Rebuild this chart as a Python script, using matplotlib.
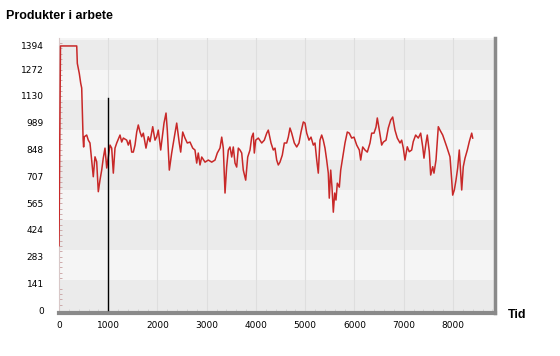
import matplotlib
matplotlib.use("Agg")
import matplotlib.pyplot as plt
from matplotlib.ticker import MultipleLocator

# 10 points per row
tid = [
    0, 30, 360, 372, 412, 441, 461, 490, 500, 514,
    562, 595, 629, 664, 696, 731, 765, 798, 832, 867,
    899, 934, 969, 1036, 1070, 1103, 1137, 1172, 1239, 1273,
    1306, 1375, 1407, 1442, 1476, 1509, 1543, 1578, 1610, 1645,
    1679, 1712,
    1766, 1813, 1848, 1903, 1949, 1984, 2016, 2065, 2106, 2132,
    2173, 2199, 2240, 2288, 2321, 2355, 2390, 2442, 2471, 2512,
    2558, 2605, 2660, 2715, 2761, 2796, 2828, 2863, 2898, 2965,
    3032, 3101, 3168, 3214, 3269, 3304, 3336, 3371, 3404, 3438,
    3472,
    3507, 3539, 3574, 3608, 3641, 3675, 3710, 3742, 3791, 3832,
    3878, 3913, 3945, 3966, 3994, 4047, 4116, 4169, 4218, 4250,
    4305, 4351, 4386, 4420, 4453, 4487, 4534, 4575, 4623, 4656,
    4690, 4725, 4778, 4827, 4873, 4914, 4961, 4995, 5030, 5076,
    5117, 5164, 5198,
    5233, 5265, 5299, 5334, 5366, 5401, 5435, 5468, 5488, 5517,
    5543, 5570, 5598, 5624, 5651, 5692, 5720, 5761, 5807, 5854,
    5895, 5943, 5990, 6045, 6098, 6126, 6167, 6213, 6260, 6315,
    6349, 6396, 6437, 6463, 6504, 6552, 6585, 6640, 6686, 6735,
    6776, 6822, 6869, 6924,
    6958, 6991, 7025, 7072, 7112, 7161, 7193, 7242, 7295, 7344,
    7385, 7411, 7452, 7478, 7519, 7547, 7588, 7614, 7655, 7702,
    7736, 7791, 7838, 7873, 7905, 7939, 7974, 7994, 8027, 8061,
    8095, 8128, 8157, 8177, 8209, 8244, 8291, 8331, 8380, 8400,
]
produkter = [
    340, 1394, 1394, 1302, 1249, 1197, 1172, 900, 861, 915,
    924, 897, 882, 792, 704, 809, 783, 625, 686, 739,
    802, 855, 750, 871, 855, 723, 855, 882, 924, 887,
    908, 897, 871, 897, 834, 834, 871, 940, 977, 940,
    915, 934,
    855, 915, 889, 968, 897, 915, 950, 845, 934, 987,
    1040, 950, 739, 829, 882, 934, 987, 882, 834, 940,
    908, 882, 887, 855, 845, 776, 829, 766, 808, 781,
    792, 781, 792, 829, 855, 913, 855, 618, 755, 845,
    861,
    808, 861, 776, 755, 855, 845, 829, 739, 686, 808,
    845, 913, 934, 829, 897, 908, 882, 897, 934, 950,
    882, 845, 855, 792, 766, 781, 818, 882, 882, 913,
    961, 934, 882, 861, 882, 940, 993, 987, 934, 897,
    913, 871, 882,
    792, 723, 897, 924, 897, 855, 792, 723, 591, 739,
    649, 517, 618, 581, 670, 649, 739, 808, 882, 940,
    934, 908, 913, 871, 845, 792, 861, 845, 834, 882,
    934, 934, 966, 1014, 950, 871, 887, 897, 961, 1003,
    1019, 950, 908, 882,
    897, 855, 792, 862, 836, 845, 889, 924, 908, 934,
    862, 802, 882, 924, 836, 713, 757, 723, 792, 968,
    950, 924, 889, 862, 836, 809, 686, 607, 634, 686,
    750, 845, 723, 634, 757, 802, 845, 889, 934, 908,
]

y_ticks = [0, 141, 283, 424, 565, 707, 848, 989, 1130, 1272, 1394]
x_ticks = [0, 1000, 2000, 3000, 4000, 5000, 6000, 7000, 8000]
markering = 1000   # black marker line
markering_topp = 1120

fig = plt.figure(figsize=(5.6, 3.56), dpi=100)
ax = fig.add_axes([59 / 560, 43 / 356, 436 / 560, 275 / 356])
ax.set_xlim(0, 8853)
ax.set_ylim(-15, 1436)

# alternating background bands
band = 1426 / 9
for i in range(10):
    col = "#ebebeb" if i % 2 == 0 else "#f5f5f5"
    ax.axhspan(i * band, (i + 1) * band, color=col, lw=0, zorder=0)
ax.axhspan(-15, 0, color="#ebebeb", lw=0, zorder=0)

for xv in x_ticks[1:]:
    ax.axvline(xv, color="#dedede", lw=0.8, zorder=1)

ax.plot(tid, produkter, color="#c82828", lw=1.1, zorder=3)
ax.plot([markering, markering], [0, markering_topp], color="black", lw=1, zorder=4)

ax.set_yticks(y_ticks)
ax.set_yticklabels([str(v) for v in y_ticks])
ax.set_xticks(x_ticks)
ax.set_xticklabels([str(v) for v in x_ticks])
ax.yaxis.set_minor_locator(MultipleLocator(28.2))
ax.xaxis.set_minor_locator(MultipleLocator(200))
ax.tick_params(axis="y", which="major", labelsize=6.5, length=0, pad=11)
ax.tick_params(axis="y", which="minor", direction="in", length=2.5, color="#c8a0a0")
ax.tick_params(axis="x", which="major", labelsize=6.5, length=0, pad=6)
ax.tick_params(axis="x", which="minor", direction="in", length=3, color="#d0d0d0")

ax.spines["top"].set_visible(False)
ax.spines["left"].set_color("#d8c8c8")
ax.spines["left"].set_linewidth(0.8)
ax.spines["bottom"].set_color("#8a8a8a")
ax.spines["bottom"].set_linewidth(3)
ax.spines["right"].set_color("#8a8a8a")
ax.spines["right"].set_linewidth(2.5)

fig.text(6 / 560, 1 - 16 / 356, "Produkter i arbete", fontsize=9, fontweight="bold",
         family="Liberation Sans", va="center", ha="left")
fig.text(508 / 560, 1 - 315 / 356, "Tid", fontsize=9, fontweight="bold",
         family="Liberation Sans", va="center", ha="left")

fig.savefig("out.png", dpi=100)
